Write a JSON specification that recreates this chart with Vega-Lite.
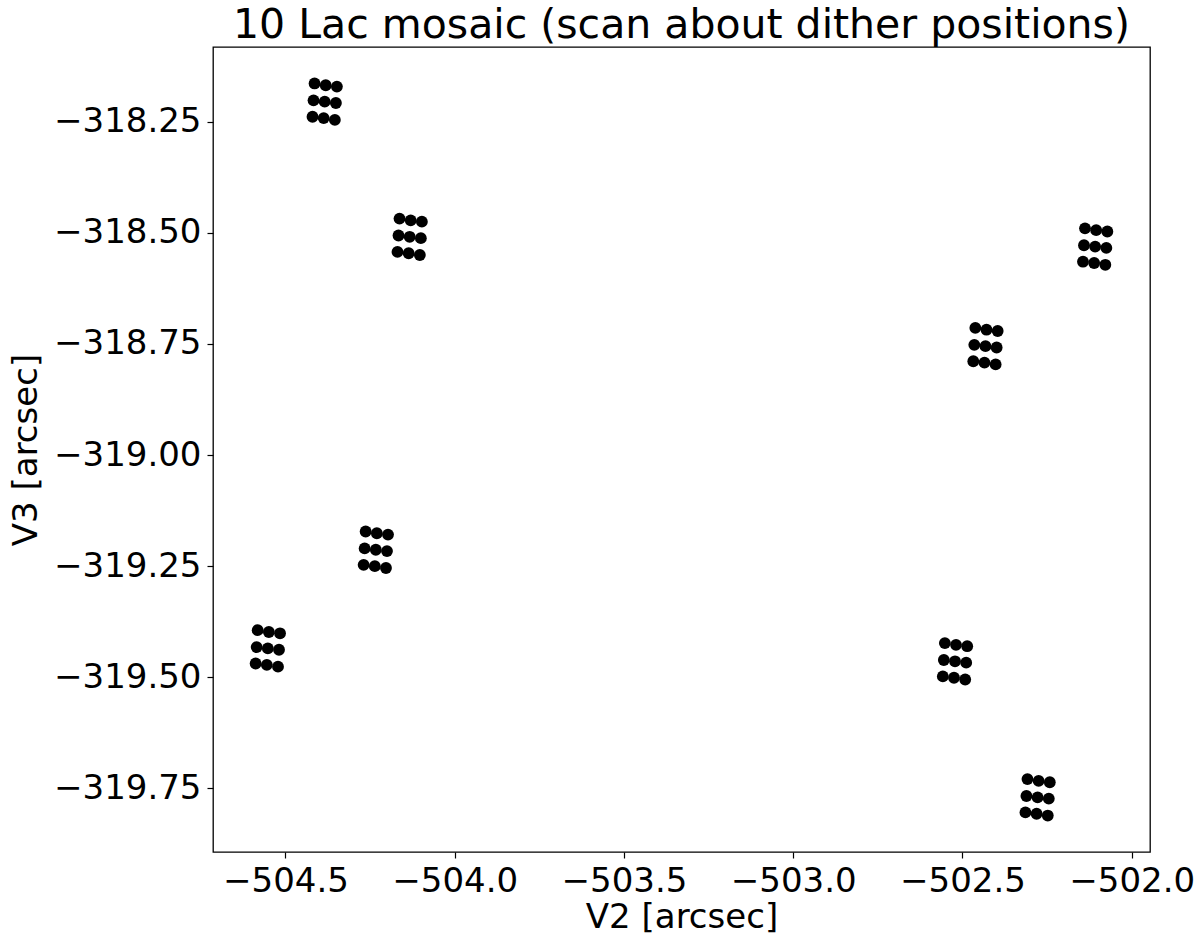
{
  "$schema": "https://vega.github.io/schema/vega-lite/v6.json",
  "autosize": "none",
  "width": 937,
  "height": 805,
  "padding": {"left": 213, "top": 47, "right": 50, "bottom": 93},
  "background": "white",
  "title": {"text": "10 Lac mosaic (scan about dither positions)", "fontSize": 41, "font": "DejaVu Sans", "fontWeight": "normal", "color": "black", "offset": 0, "anchor": "middle"},
  "config": {
    "view": {"stroke": "black", "strokeWidth": 1.3},
    "axis": {"grid": false, "domain": false, "labelFont": "DejaVu Sans", "titleFont": "DejaVu Sans", "labelFontSize": 34, "titleFontSize": 34, "titleFontWeight": "normal", "labelColor": "black", "titleColor": "black", "tickColor": "black", "tickSize": 6, "tickWidth": 1.2, "labelPadding": 6}
  },
  "data": {"values": [
    {"v2": -504.414, "v3": -318.164}, {"v2": -504.381, "v3": -318.168}, {"v2": -504.348, "v3": -318.171},
    {"v2": -504.417, "v3": -318.202}, {"v2": -504.384, "v3": -318.205}, {"v2": -504.351, "v3": -318.208},
    {"v2": -504.420, "v3": -318.239}, {"v2": -504.387, "v3": -318.242}, {"v2": -504.354, "v3": -318.246},
    {"v2": -504.163, "v3": -318.468}, {"v2": -504.130, "v3": -318.472}, {"v2": -504.097, "v3": -318.475},
    {"v2": -504.166, "v3": -318.506}, {"v2": -504.133, "v3": -318.509}, {"v2": -504.100, "v3": -318.512},
    {"v2": -504.169, "v3": -318.543}, {"v2": -504.136, "v3": -318.546}, {"v2": -504.103, "v3": -318.550},
    {"v2": -504.263, "v3": -319.172}, {"v2": -504.230, "v3": -319.176}, {"v2": -504.197, "v3": -319.179},
    {"v2": -504.266, "v3": -319.210}, {"v2": -504.233, "v3": -319.213}, {"v2": -504.200, "v3": -319.216},
    {"v2": -504.269, "v3": -319.247}, {"v2": -504.236, "v3": -319.250}, {"v2": -504.203, "v3": -319.254},
    {"v2": -504.582, "v3": -319.394}, {"v2": -504.549, "v3": -319.398}, {"v2": -504.516, "v3": -319.401},
    {"v2": -504.585, "v3": -319.432}, {"v2": -504.552, "v3": -319.435}, {"v2": -504.519, "v3": -319.438},
    {"v2": -504.588, "v3": -319.469}, {"v2": -504.555, "v3": -319.472}, {"v2": -504.522, "v3": -319.476},
    {"v2": -502.552, "v3": -319.423}, {"v2": -502.519, "v3": -319.427}, {"v2": -502.486, "v3": -319.430},
    {"v2": -502.555, "v3": -319.461}, {"v2": -502.522, "v3": -319.464}, {"v2": -502.489, "v3": -319.467},
    {"v2": -502.558, "v3": -319.498}, {"v2": -502.525, "v3": -319.501}, {"v2": -502.492, "v3": -319.505},
    {"v2": -502.138, "v3": -318.490}, {"v2": -502.105, "v3": -318.494}, {"v2": -502.072, "v3": -318.497},
    {"v2": -502.141, "v3": -318.528}, {"v2": -502.108, "v3": -318.531}, {"v2": -502.075, "v3": -318.534},
    {"v2": -502.144, "v3": -318.565}, {"v2": -502.111, "v3": -318.568}, {"v2": -502.078, "v3": -318.572},
    {"v2": -502.462, "v3": -318.714}, {"v2": -502.429, "v3": -318.718}, {"v2": -502.396, "v3": -318.721},
    {"v2": -502.465, "v3": -318.752}, {"v2": -502.432, "v3": -318.755}, {"v2": -502.399, "v3": -318.758},
    {"v2": -502.468, "v3": -318.789}, {"v2": -502.435, "v3": -318.792}, {"v2": -502.402, "v3": -318.796},
    {"v2": -502.308, "v3": -319.729}, {"v2": -502.275, "v3": -319.733}, {"v2": -502.242, "v3": -319.736},
    {"v2": -502.311, "v3": -319.767}, {"v2": -502.278, "v3": -319.770}, {"v2": -502.245, "v3": -319.773},
    {"v2": -502.314, "v3": -319.804}, {"v2": -502.281, "v3": -319.807}, {"v2": -502.248, "v3": -319.811}
  ]},
  "mark": {"type": "point", "filled": true, "color": "black", "opacity": 1, "size": 140},
  "encoding": {
    "x": {"field": "v2", "type": "quantitative", "title": "V2 [arcsec]",
      "scale": {"domain": [-504.714, -501.946], "zero": false, "nice": false},
      "axis": {"values": [-504.5, -504.0, -503.5, -503.0, -502.5, -502.0], "format": ".1f", "titlePadding": 2}},
    "y": {"field": "v3", "type": "quantitative", "title": "V3 [arcsec]",
      "scale": {"domain": [-319.893, -318.082], "zero": false, "nice": false},
      "axis": {"values": [-318.25, -318.5, -318.75, -319.0, -319.25, -319.5, -319.75], "format": ".2f", "titlePadding": 10}}
  }
}
